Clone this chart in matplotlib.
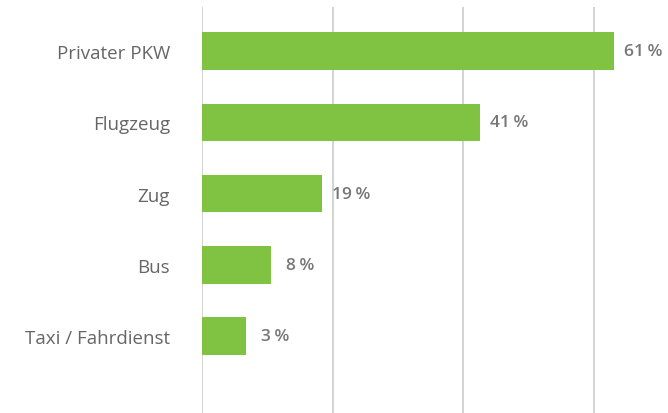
import numpy as np
import matplotlib.pyplot as plt

# categories, printed values and bar lengths (as drawn in the reference)
categories = ['Privater PKW', 'Flugzeug', 'Zug', 'Bus', 'Taxi / Fahrdienst']
labels = [61, 41, 19, 8, 3]
lengths = [63.1, 42.5, 18.3, 10.6, 6.8]
grid_ticks = [0, 20, 40, 60]

bar_color = '#80c241'
text_color = '#666666'
value_color = '#777777'

plt.rcParams['font.family'] = ['Open Sans', 'DejaVu Sans']

fig = plt.figure(figsize=(6.68, 4.14), dpi=100)
ax = fig.add_axes([202 / 668, 0, 466 / 668, 1 - 8 / 414])

y = np.arange(len(categories))
ax.barh(y, lengths, height=0.526, color=bar_color, zorder=2)

for yi, length, lab in zip(y, lengths, labels):
    ax.annotate(f'{lab}\u2009%', xy=(length, yi), xytext=(21, 0),
                textcoords='offset points', ha='center', va='center',
                fontsize=12.5, fontweight='semibold', color=value_color)

ax.set_xlim(0, 71.3)
ax.set_ylim(5.08, -0.62)
ax.set_xticks(grid_ticks)
ax.set_xticklabels([])
ax.xaxis.grid(True, color='#cccccc', linewidth=1.2)
ax.set_axisbelow(True)
ax.tick_params(axis='x', length=0)
ax.tick_params(axis='y', length=0, pad=23, labelsize=13.5, labelcolor=text_color)
ax.set_yticks(y)
ax.set_yticklabels(categories)
for s in ax.spines.values():
    s.set_visible(False)

fig.savefig('out.png', dpi=100)
